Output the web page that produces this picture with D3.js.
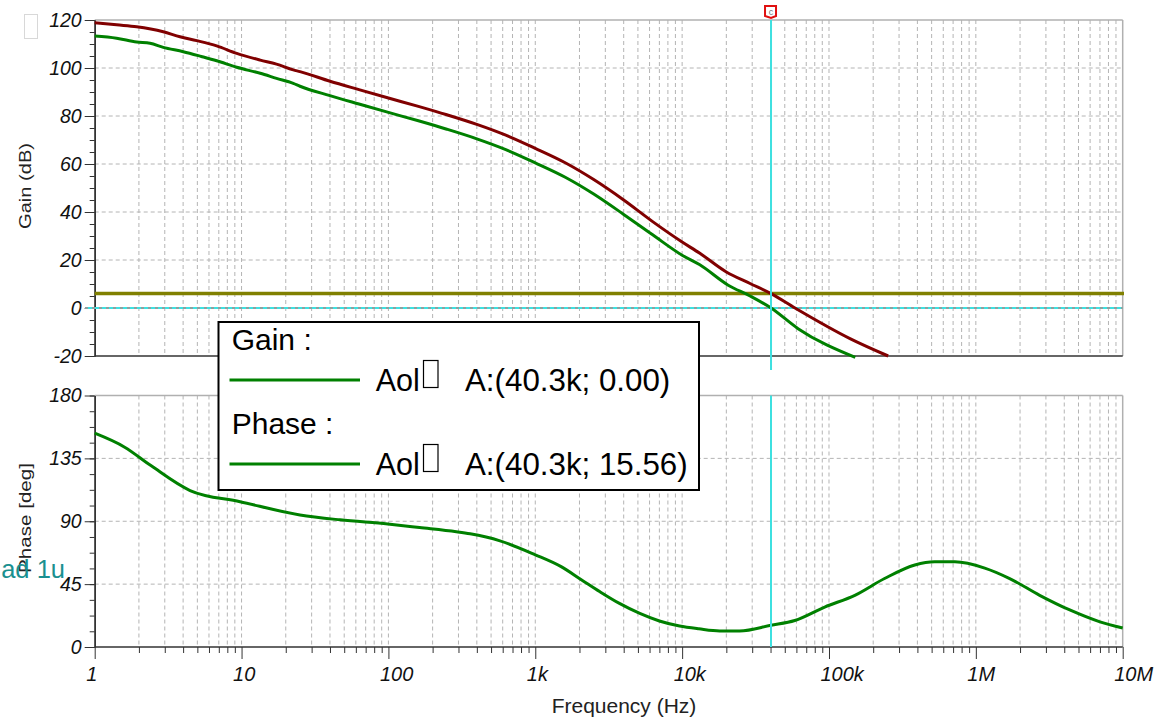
<!doctype html>
<html lang="en">
  <head>
    <meta charset="utf-8">
    <title>Aol gain and phase</title>
    <style>
      body {
        margin: 0;
        background: #fff;
      }
      svg {
        display: block;
        font-family: 'Liberation Sans', Arial, sans-serif;
      }
      .grid line {
        stroke: #b4b4b4;
        stroke-width: 1;
        stroke-dasharray: 4,3;
      }
    </style>
  </head>
  <body>
    <svg id="chart" width="1174" height="722"></svg>

    <script src="https://cdn.jsdelivr.net/npm/d3@7/dist/d3.min.js"></script>
    <script>
      // values
      const redFreq = [1, 1.41, 1.93, 2.93, 3.81, 4.95, 6.77, 9.27, 13.4, 17.3, 22.5, 25, 40, 63, 100, 160, 250, 400, 630, 1000, 1600, 2500, 4000, 6300, 10000, 13200, 20000, 29000, 40300, 58700, 139000, 253000]
      const redGain = [118.9, 118.0, 117.2, 115.1, 113.0, 111.4, 109.2, 106.1, 103.3, 101.6, 99.2, 98.5, 94.5, 91, 87.5, 84, 80.5, 76.5, 72, 66.5, 60.5, 53.5, 45, 36, 27.5, 22.8, 15, 10.2, 6, 0, -12.75, -20]

      const greenFreq = [1, 1.41, 1.93, 2.38, 2.93, 4.01, 5.32, 6.77, 9.27, 13.4, 17.3, 22.5, 25, 40, 63, 100, 160, 250, 400, 630, 1000, 1600, 2500, 4000, 6300, 10000, 13200, 20600, 29000, 40300, 61600, 151000]
      const greenGain = [113.3, 112.4, 110.8, 110.3, 108.6, 106.8, 104.8, 103.0, 100.3, 97.8, 95.7, 93.6, 92.4, 88.5, 85, 81.5, 78, 74.5, 70.5, 66, 60.5, 54.5, 47.5, 39, 30.5, 22, 18, 9.5, 5, 0, -8.6, -20.6]

      const phaseFreq = [1, 1.6, 2.4, 4.46, 9.77, 25, 46.8, 99, 163, 290, 360, 575, 1000, 1500, 2070, 2760, 3770, 5150, 7000, 9600, 13000, 18000, 24600, 40300, 58500, 93500, 150000, 239000, 384000, 525000, 720000, 1150000, 1700000, 2720000, 4360000, 7000000, 10000000]
      const phaseDeg = [153, 143, 130, 112, 104, 94.5, 91, 88, 85.5, 82.5, 81, 76, 66, 57.5, 48, 39.5, 31, 24, 18.6, 15, 13, 11.5, 11.5, 15.56, 19, 28.6, 37, 49, 58.7, 61, 61, 56.5, 49, 37, 26.5, 18, 13.6]

      const gainTicks = [-20, 0, 20, 40, 60, 80, 100, 120]
      const phaseTicks = [0, 45, 90, 135, 180]
      const freqLabels = ['1', '10', '100', '1k', '10k', '100k', '1M', '10M']

      const cursorFreq = 40300
      const refLevel = 6
      const legendRows = [
        { title: 'Gain :', name: 'Aol', value: 'A:(40.3k; 0.00)' },
        { title: 'Phase :', name: 'Aol', value: 'A:(40.3k; 15.56)' }
      ]

      const svg = d3.select('#chart')

      const x = d3.scaleLog().domain([1, 1e7]).range([94.7, 1122.7])
      const yGain = d3.scaleLinear().domain([-20, 120]).range([356, 20])
      const yPhase = d3.scaleLinear().domain([0, 180]).range([647, 395.5])

      const decades = d3.range(0, 8).map(e => 10 ** e)
      const minors = []
      decades.slice(0, 7).forEach(d => {
        for (let m = 2; m < 10; m++) minors.push(d * m)
      })

      // grids
      const panels = [
        { y: yGain, ticks: gainTicks },
        { y: yPhase, ticks: phaseTicks }
      ]
      panels.forEach(p => {
        const [bottom, top] = p.y.range()
        const g = svg.append('g').attr('class', 'grid')
        g.selectAll('.v')
          .data(decades.slice(1, 7).concat(minors))
          .enter()
          .append('line')
            .attr('x1', d => x(d))
            .attr('x2', d => x(d))
            .attr('y1', top)
            .attr('y2', bottom)
        g.selectAll('.h')
          .data(p.ticks.slice(1, -1))
          .enter()
          .append('line')
            .attr('x1', x.range()[0])
            .attr('x2', x.range()[1])
            .attr('y1', d => p.y(d))
            .attr('y2', d => p.y(d))

        // frame: light top and right, dark left and bottom
        svg.append('line')
          .attr('x1', x.range()[0]).attr('x2', x.range()[1])
          .attr('y1', top).attr('y2', top)
          .attr('stroke', '#b0b0b0').attr('stroke-width', 1.5)
        svg.append('line')
          .attr('x1', x.range()[1]).attr('x2', x.range()[1])
          .attr('y1', top).attr('y2', bottom)
          .attr('stroke', '#b0b0b0').attr('stroke-width', 1.5)
        svg.append('line')
          .attr('x1', x.range()[0]).attr('x2', x.range()[1])
          .attr('y1', bottom).attr('y2', bottom)
          .attr('stroke', '#333').attr('stroke-width', 1.5)
      })

      // left axes with minor ticks
      const leftAxis = (scale, major, minorStep) => {
        const [lo, hi] = scale.domain()
        const g = svg.append('g')
          .attr('transform', `translate(${x.range()[0]},0)`)
          .style('color', '#333')
        g.append('g')
          .call(d3.axisLeft(scale).tickValues(d3.range(lo, hi + 0.1, minorStep)).tickSize(5).tickSizeOuter(0).tickFormat(''))
        g.append('g')
          .call(d3.axisLeft(scale).tickValues(major).tickSize(10).tickSizeOuter(0).tickPadding(3).tickFormat(d => String(d)))
          .call(a => a.selectAll('text')
            .attr('font-family', "'Liberation Sans', Arial, sans-serif")
            .attr('font-size', 19.5)
            .attr('font-style', 'italic')
            .attr('fill', '#111'))
        g.selectAll('.domain').attr('stroke-width', 1.5)
      }
      leftAxis(yGain, gainTicks, 5)
      leftAxis(yPhase, phaseTicks, 11.25)

      // bottom frequency axis
      const xAxisG = svg.append('g')
        .attr('transform', `translate(0,${yPhase.range()[0]})`)
        .style('color', '#333')
      xAxisG.append('g')
        .call(d3.axisBottom(x).tickValues(minors).tickSize(6).tickSizeOuter(0).tickFormat(''))
      xAxisG.append('g')
        .call(d3.axisBottom(x).tickValues(decades).tickSize(12).tickSizeOuter(0).tickFormat((d, i) => freqLabels[i]))
        .call(a => a.selectAll('text')
          .attr('text-anchor', 'start')
          .attr('x', -9)
          .attr('y', 0)
          .attr('dy', 34)
          .attr('font-family', "'Liberation Sans', Arial, sans-serif")
          .attr('font-size', 20)
          .attr('font-style', 'italic')
          .attr('fill', '#111'))
      xAxisG.selectAll('.domain').remove()

      // axis titles
      svg.append('text')
        .attr('transform', 'translate(31,186) rotate(-90)')
        .attr('text-anchor', 'middle')
        .attr('font-size', 17)
        .attr('textLength', 86)
        .attr('lengthAdjust', 'spacingAndGlyphs')
        .attr('fill', '#222')
        .text('Gain (dB)')
      svg.append('text')
        .attr('transform', 'translate(31,518) rotate(-90)')
        .attr('text-anchor', 'middle')
        .attr('font-size', 17)
        .attr('textLength', 110)
        .attr('lengthAdjust', 'spacingAndGlyphs')
        .attr('fill', '#222')
        .text('Phase [deg]')
      svg.append('text')
        .attr('x', 624)
        .attr('y', 713)
        .attr('text-anchor', 'middle')
        .attr('font-size', 21)
        .attr('fill', '#222')
        .text('Frequency (Hz)')

      // cursor and reference lines
      const cx = x(cursorFreq)
      svg.append('line')
        .attr('x1', 85).attr('x2', x.range()[1])
        .attr('y1', yGain(0)).attr('y2', yGain(0))
        .attr('stroke', '#3ee0e0').attr('stroke-width', 2)
      svg.append('line')
        .attr('x1', 85).attr('x2', x.range()[1])
        .attr('y1', yGain(0)).attr('y2', yGain(0))
        .attr('stroke', '#e06060').attr('stroke-width', 1).attr('stroke-dasharray', '3,4')
      svg.append('line')
        .attr('x1', x.range()[0]).attr('x2', 1124)
        .attr('y1', yGain(refLevel)).attr('y2', yGain(refLevel))
        .attr('stroke', '#808000').attr('stroke-width', 3.5)

      const gainLine = d3.line()
        .x(d => x(d[0]))
        .y(d => yGain(d[1]))
        .curve(d3.curveMonotoneX)
      const phaseLine = d3.line()
        .x(d => x(d[0]))
        .y(d => yPhase(d[1]))
        .curve(d3.curveMonotoneX)

      svg.append('path')
        .datum(d3.zip(redFreq, redGain))
        .attr('d', gainLine)
        .attr('fill', 'none')
        .attr('stroke', '#800000')
        .attr('stroke-width', 3)
      svg.append('path')
        .datum(d3.zip(greenFreq, greenGain))
        .attr('d', gainLine)
        .attr('fill', 'none')
        .attr('stroke', '#008000')
        .attr('stroke-width', 3)
      svg.append('path')
        .datum(d3.zip(phaseFreq, phaseDeg))
        .attr('d', phaseLine)
        .attr('fill', 'none')
        .attr('stroke', '#008000')
        .attr('stroke-width', 3)

      svg.append('line')
        .attr('x1', cx).attr('x2', cx)
        .attr('y1', yGain.range()[1]).attr('y2', 370)
        .attr('stroke', '#3ee0e0').attr('stroke-width', 2)
      svg.append('line')
        .attr('x1', cx).attr('x2', cx)
        .attr('y1', yPhase.range()[1]).attr('y2', yPhase.range()[0])
        .attr('stroke', '#3ee0e0').attr('stroke-width', 2)

      // cursor marker
      svg.append('path')
        .attr('d', `M${cx - 6},6 H${cx + 5} V16 L${cx},18 L${cx - 6},16 Z`)
        .attr('fill', '#fff')
        .attr('stroke', '#e01010')
        .attr('stroke-width', 2)
      svg.append('text')
        .attr('x', cx)
        .attr('y', 15)
        .attr('text-anchor', 'middle')
        .attr('font-size', 9)
        .attr('fill', '#777')
        .text('c')

      // small box top-left
      svg.append('rect')
        .attr('x', 24.5).attr('y', 14.5)
        .attr('width', 13).attr('height', 24)
        .attr('fill', '#fff')
        .attr('stroke', '#d8d8d8')

      // legend
      const legend = svg.append('g')
      legend.append('rect')
        .attr('x', 218.5).attr('y', 322)
        .attr('width', 480.5).attr('height', 168)
        .attr('fill', '#fff')
        .attr('stroke', '#000')
        .attr('stroke-width', 2)
      legendRows.forEach((r, i) => {
        const y0 = 350 + i * 84
        legend.append('text')
          .attr('x', 231.7).attr('y', y0)
          .attr('font-size', 30)
          .attr('fill', '#000')
          .text(r.title)
        legend.append('line')
          .attr('x1', 229.5).attr('x2', 360)
          .attr('y1', y0 + 30).attr('y2', y0 + 30)
          .attr('stroke', '#008000')
          .attr('stroke-width', 3)
        legend.append('text')
          .attr('x', 375.7).attr('y', y0 + 41)
          .attr('font-size', 30.5)
          .attr('fill', '#000')
          .text(r.name)
        legend.append('rect')
          .attr('x', 423.5).attr('y', y0 + 10.5)
          .attr('width', 14.5).attr('height', 27)
          .attr('fill', 'none')
          .attr('stroke', '#000')
          .attr('stroke-width', 1.2)
        legend.append('text')
          .attr('x', 465).attr('y', y0 + 41)
          .attr('font-size', 31.3)
          .attr('fill', '#000')
          .text(r.value)
      })

      // label cut off at the left edge, lying over the phase title as in the original
      svg.append('text')
        .attr('x', 65)
        .attr('y', 578)
        .attr('text-anchor', 'end')
        .attr('font-size', 25.5)
        .attr('fill', '#1a9090')
        .text('ad 1u')
    </script>
  </body>
</html>
